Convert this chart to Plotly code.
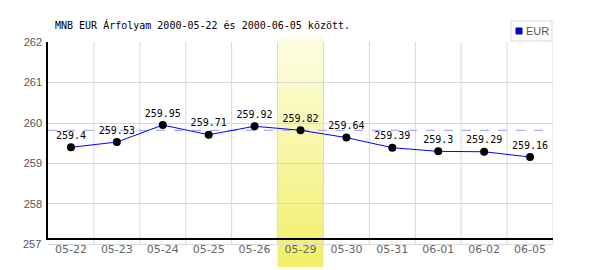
import plotly.graph_objects as go

dates = ["05-22", "05-23", "05-24", "05-25", "05-26", "05-29", "05-30", "05-31", "06-01", "06-02", "06-05"]
rates = [259.4, 259.53, 259.95, 259.71, 259.92, 259.82, 259.64, 259.39, 259.3, 259.29, 259.16]
value_labels = ["259.4", "259.53", "259.95", "259.71", "259.92", "259.82", "259.64", "259.39", "259.3", "259.29", "259.16"]
y_ticks = [258, 259, 260, 261, 262]
bottom_tick = 257
highlight_index = 5
title_text = "MNB EUR Árfolyam 2000-05-22 és 2000-06-05 között."
series_name = "EUR"

W, H = 600, 270
L, R, T, B = 48, 47, 42, 32
plot_h = H - T - B
plot_w = W - L - R
px_per_unit = 40.6

def py(px):
    return (H - B - px) / plot_h

def pxx(px):
    return (px - L) / plot_w

xs = list(range(len(dates)))
ref_value = rates[highlight_index]
y_min = 262 - (plot_h + 0.5) / px_per_unit
y257 = (bottom_tick - y_min) * px_per_unit / plot_h  # paper coord of 257 level

fig = go.Figure()
fig.add_trace(go.Scatter(
    x=xs, y=rates, mode="lines+markers+text",
    text=value_labels, textposition="top center",
    textfont=dict(family="DejaVu Sans Mono", size=10, color="#000000"),
    line=dict(color="#0000ff", width=1),
    marker=dict(color="#000000", size=8),
    cliponaxis=False, showlegend=False, name=series_name,
))

shapes = []
# gradient highlight band
N = 46
top_c = (0xfd, 0xfd, 0xe4)
bot_c = (0xf1, 0xef, 0x68)
y_top, y_bot = py(37), py(267)
for i in range(N):
    t0 = i / N
    t1 = (i + 1) / N
    f = (i + 0.5) / N
    c = tuple(round(top_c[k] + (bot_c[k] - top_c[k]) * f) for k in range(3))
    shapes.append(dict(type="rect", xref="x", yref="paper",
                       x0=highlight_index - 0.5, x1=highlight_index + 0.5,
                       y0=y_top + (y_bot - y_top) * t1, y1=y_top + (y_bot - y_top) * t0,
                       fillcolor="rgb(%d,%d,%d)" % c, line=dict(width=0), layer="between"))
# vertical grid lines at category boundaries
for k in range(len(dates)):
    shapes.append(dict(type="line", xref="x", yref="paper", x0=k + 0.5, x1=k + 0.5,
                       y0=y257, y1=1, line=dict(color="#d8d8d8", width=1), layer="below"))
# bottom gridline (257) below axis
shapes.append(dict(type="line", xref="paper", yref="paper", x0=0, x1=1,
                   y0=y257, y1=y257, line=dict(color="#d8d8d8", width=1), layer="below"))
# dashed reference line
shapes.append(dict(type="line", xref="paper", yref="y", x0=0, x1=0.995,
                   y0=ref_value, y1=ref_value, line=dict(color="#9999ff", width=1, dash="dash"),
                   layer="between"))
# legend box
shapes.append(dict(type="rect", xref="paper", yref="paper", x0=pxx(511), x1=pxx(552),
                   y0=py(41), y1=py(21), line=dict(color="#d8d8d8", width=1),
                   fillcolor="#ffffff", layer="above"))
shapes.append(dict(type="rect", xref="paper", yref="paper", x0=pxx(516), x1=pxx(522),
                   y0=py(34), y1=py(28), line=dict(color="#000080", width=1),
                   fillcolor="#0000ff", layer="above"))

annotations = [
    dict(text=title_text, xref="paper", yref="paper", x=pxx(53), y=py(25),
         xanchor="left", yanchor="middle", showarrow=False,
         font=dict(family="DejaVu Sans Mono", size=10, color="#000000")),
    dict(text=series_name, xref="paper", yref="paper", x=pxx(524), y=py(31),
         xanchor="left", yanchor="middle", showarrow=False,
         font=dict(family="Liberation Sans", size=11, color="#555555")),
    dict(text=str(bottom_tick), xref="paper", yref="paper", x=0, y=y257, xanchor="right",
         yanchor="middle", xshift=-5, showarrow=False,
         font=dict(family="Liberation Sans", size=11, color="#555555")),
]

fig.update_layout(
    width=W, height=H, margin=dict(l=L, r=R, t=T, b=B),
    paper_bgcolor="#ffffff", plot_bgcolor="rgba(0,0,0,0)",
    shapes=shapes, annotations=annotations, showlegend=False,
    xaxis=dict(range=[-0.5, len(dates) - 0.5], tickvals=xs, ticktext=dates,
               showgrid=False, zeroline=False, showline=True, linecolor="#000000", linewidth=2,
               ticks="", tickfont=dict(family="DejaVu Sans", size=11, color="#666666"),
               ticklabelstandoff=0, fixedrange=True),
    yaxis=dict(range=[y_min, 262.001], tickvals=y_ticks,
               ticktext=[str(v) for v in y_ticks],
               showgrid=True, gridcolor="#d8d8d8", gridwidth=1, zeroline=False,
               showline=True, linecolor="#000000", linewidth=1.5, ticks="",
               tickfont=dict(family="Liberation Sans", size=11, color="#555555"),
               ticklabelstandoff=2, fixedrange=True),
)

fig.write_html("out.html", config=dict(displayModeBar=False))
